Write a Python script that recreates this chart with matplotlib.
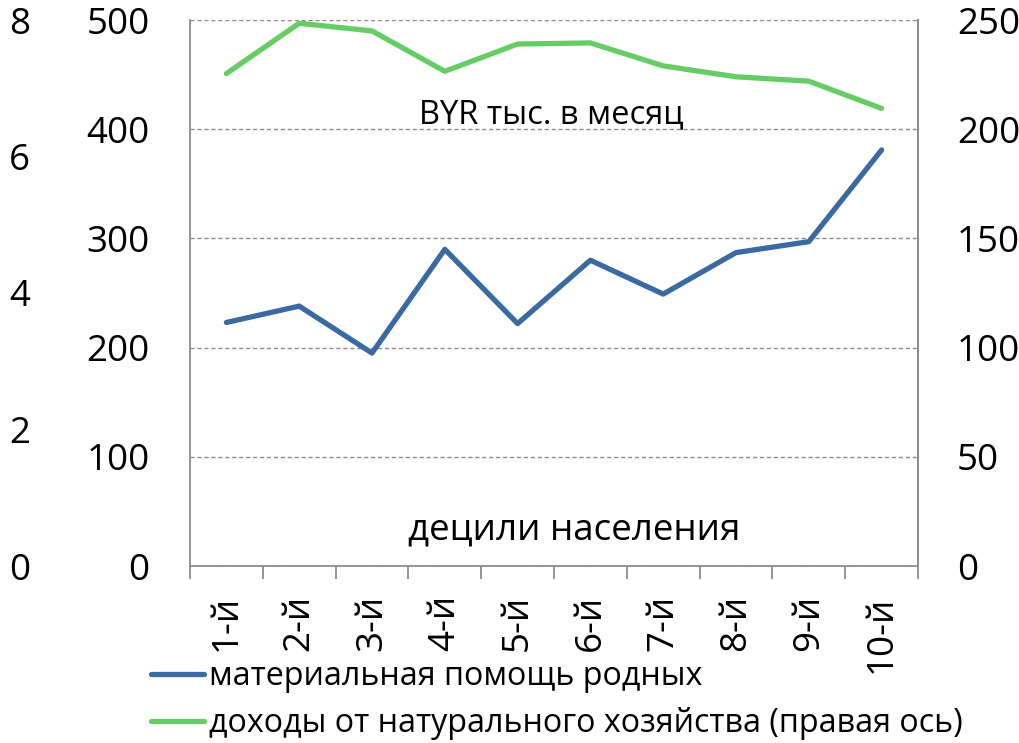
import matplotlib
matplotlib.use("Agg")
import matplotlib.pyplot as plt
import numpy as np

plt.rcParams['font.family'] = ['Open Sans', 'DejaVu Sans']

categories = ["1-й", "2-й", "3-й", "4-й", "5-й", "6-й", "7-й", "8-й", "9-й", "10-й"]
help_relatives = [223, 238, 195, 290, 222, 280, 249, 287, 297, 381]
farm_income = [225.5, 248.5, 245, 226.5, 239, 239.5, 229, 224, 222, 209.5]
left_ticks = [0, 100, 200, 300, 400, 500]
outer_ticks = [0, 2, 4, 6, 8]
right_ticks = [0, 50, 100, 150, 200, 250]

label_help = "материальная помощь родных"
label_farm = "доходы от натурального хозяйства (правая ось)"
units_text = "BYR тыс. в месяц"
xlabel_text = "децили населения"

BLUE = "#3A6AA0"
GREEN = "#66CC66"
GRID = "#8C8C8C"
FS = 26.5

fig = plt.figure(figsize=(10.19, 7.43), dpi=100)
ax = fig.add_axes([190/1019, 1-566/743, (918-190)/1019, (566-20)/743])

x = np.arange(len(categories))
l1, = ax.plot(x, help_relatives, color=BLUE, lw=3.8, solid_capstyle='round', solid_joinstyle='round', zorder=3)
ax.set_xlim(-0.5, len(categories) - 0.5)
ax.set_ylim(0, 500)
ax.set_yticks(left_ticks)
ax.yaxis.grid(True, linestyle=(0, (3, 2)), color=GRID, lw=1)
ax.set_axisbelow(True)
ax.tick_params(axis='y', length=0, pad=29, labelsize=FS)

# x ticks: boundaries as major, labels at centers as minor
ax.set_xticks(np.arange(-0.5, len(categories), 1.0))
ax.set_xticklabels([])
ax.set_xticks(x, minor=True)
ax.set_xticklabels(categories, minor=True, rotation=90, fontsize=FS)
ax.tick_params(axis='x', which='major', length=9.5, width=1.3, color=GRID, direction='out')
ax.tick_params(axis='x', which='minor', length=0, pad=21)

for s in ['left', 'bottom', 'right']:
    ax.spines[s].set_color(GRID)
    ax.spines[s].set_linewidth(1.3)
ax.spines['top'].set_visible(False)

# right axis
ax2 = ax.twinx()
l2, = ax2.plot(x, farm_income, color=GREEN, lw=3.8, solid_capstyle='round', solid_joinstyle='round', zorder=3)
ax2.set_ylim(0, 250)
ax2.set_yticks(right_ticks)
ax2.tick_params(axis='y', length=0, pad=28, labelsize=FS)
for s in ['left', 'top', 'bottom']:
    ax2.spines[s].set_visible(False)
ax2.spines['right'].set_color(GRID)
ax2.spines['right'].set_linewidth(1.3)

# outer left axis (0-8)
ax3 = ax.twinx()
ax3.set_ylim(0, 8)
ax3.set_yticks(outer_ticks)
ax3.yaxis.set_ticks_position('left')
ax3.yaxis.set_label_position('left')
ax3.tick_params(axis='y', length=0, pad=115, labelsize=FS)
for s in ax3.spines.values():
    s.set_visible(False)

ax.text(0.496, 0.811, units_text, transform=ax.transAxes, ha='center', va='baseline', fontsize=23.5)
ax.text(0.528, 0.065, xlabel_text, transform=ax.transAxes, ha='center', va='center', fontsize=FS)

fig.legend([l1, l2], [label_help, label_farm], loc='upper left',
           bbox_to_anchor=(151/1019, 1-660/743), frameon=False, fontsize=23.2,
           handlelength=1.65, handletextpad=0.15, labelspacing=0.43, borderpad=0, borderaxespad=0)

fig.savefig("out.png", dpi=100)
